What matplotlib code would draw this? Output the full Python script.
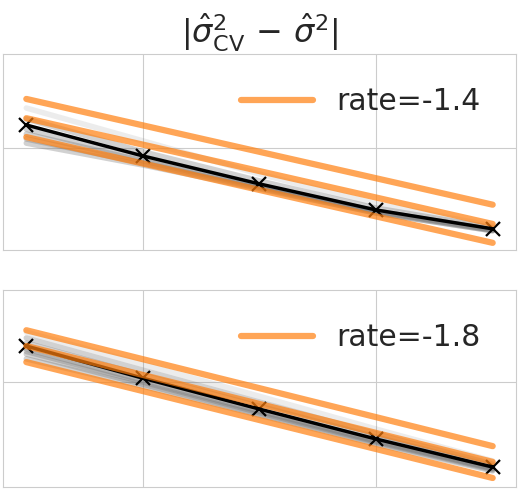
import matplotlib
matplotlib.use("Agg")
import matplotlib.pyplot as plt
import numpy as np
import seaborn as sns
from matplotlib.ticker import NullLocator, NullFormatter

# sample sizes (half-decade steps)
n_samples = [31.6, 100, 316, 1000, 3162]

# log10 of |sigma_CV^2 - sigma^2|, top panel
top_mean = [-2.39, -3.21, -3.95, -4.64, -5.14]
top_runs = [
    [-1.94, -2.81, -3.69, -4.48, -5.06],
    [-2.23, -3.10, -3.87, -4.59, -5.11],
    [-2.50, -3.29, -4.00, -4.67, -5.17],
    [-2.63, -3.34, -4.03, -4.69, -5.17],
    [-2.76, -3.40, -4.06, -4.72, -5.19],
    [-2.87, -3.45, -4.08, -4.72, -5.19],
]
top_rate = -1.4
top_ref_start = [-1.70, -2.21, -2.71]

# bottom panel
bot_mean = [-1.88, -2.88, -3.84, -4.77, -5.64]
bot_runs = [
    [-1.45, -2.45, -3.44, -4.46, -5.45],
    [-1.63, -2.63, -3.62, -4.61, -5.55],
    [-1.79, -2.79, -3.75, -4.71, -5.61],
    [-1.97, -2.95, -3.90, -4.83, -5.68],
    [-2.05, -3.00, -3.95, -4.86, -5.70],
    [-2.13, -3.07, -4.00, -4.89, -5.73],
    [-2.28, -3.13, -4.03, -4.93, -5.76],
]
bot_rate = -1.8
bot_ref_start = [-1.39, -1.88, -2.38]

sns.set_style("whitegrid")
plt.rcParams['font.family'] = ['DejaVu Sans']
plt.rcParams['mathtext.fontset'] = 'dejavusans'


def panel(ax, mean, runs, rate, ref_start, ylim):
    x = np.array(n_samples)
    for j, r in enumerate(runs):
        # the outermost run is much fainter in the original
        ax.plot(x, 10 ** np.array(r), color='dimgray', alpha=0.12 if j == 0 else 0.3,
                lw=4, zorder=2)
    ax.plot(x, 10 ** np.array(mean), color='black', lw=2.5, marker='x',
            markersize=10, markeredgewidth=1.6, zorder=3)
    for i, c in enumerate(ref_start):
        ax.plot(x, 10 ** c * (x / x[0]) ** rate, color='tab:orange', alpha=0.7,
                lw=4.5, solid_capstyle='round', zorder=4,
                label=f"rate={rate}" if i == 0 else None)
    ax.set_xscale('log')
    ax.set_yscale('log')
    ax.set_yticks([1e-3])
    ax.set_ylim(10 ** ylim[0], 10 ** ylim[1])
    for axis in (ax.xaxis, ax.yaxis):
        axis.set_minor_locator(NullLocator())
        axis.set_major_formatter(NullFormatter())
    ax.tick_params(length=0)
    ax.legend(loc='center right', fontsize=21.5, frameon=False, handlelength=2.4,
              borderaxespad=0, bbox_to_anchor=(0.955, 0.757))


fig = plt.figure(figsize=(5.22, 4.9), dpi=100)
ax1 = fig.add_axes([3 / 522, 1 - 250 / 490, 513 / 522, 196 / 490])
ax2 = fig.add_axes([3 / 522, 1 - 487 / 490, 513 / 522, 197 / 490])

panel(ax1, top_mean, top_runs, top_rate, top_ref_start, (-5.70, -0.51))
panel(ax2, bot_mean, bot_runs, bot_rate, bot_ref_start, (-6.26, -0.14))

ax1.set_title(r"$|\hat{\sigma}^2_{\mathrm{CV}}\,-\,\hat{\sigma}^2|$", fontsize=23, pad=5)

fig.savefig("out.png", dpi=100)
